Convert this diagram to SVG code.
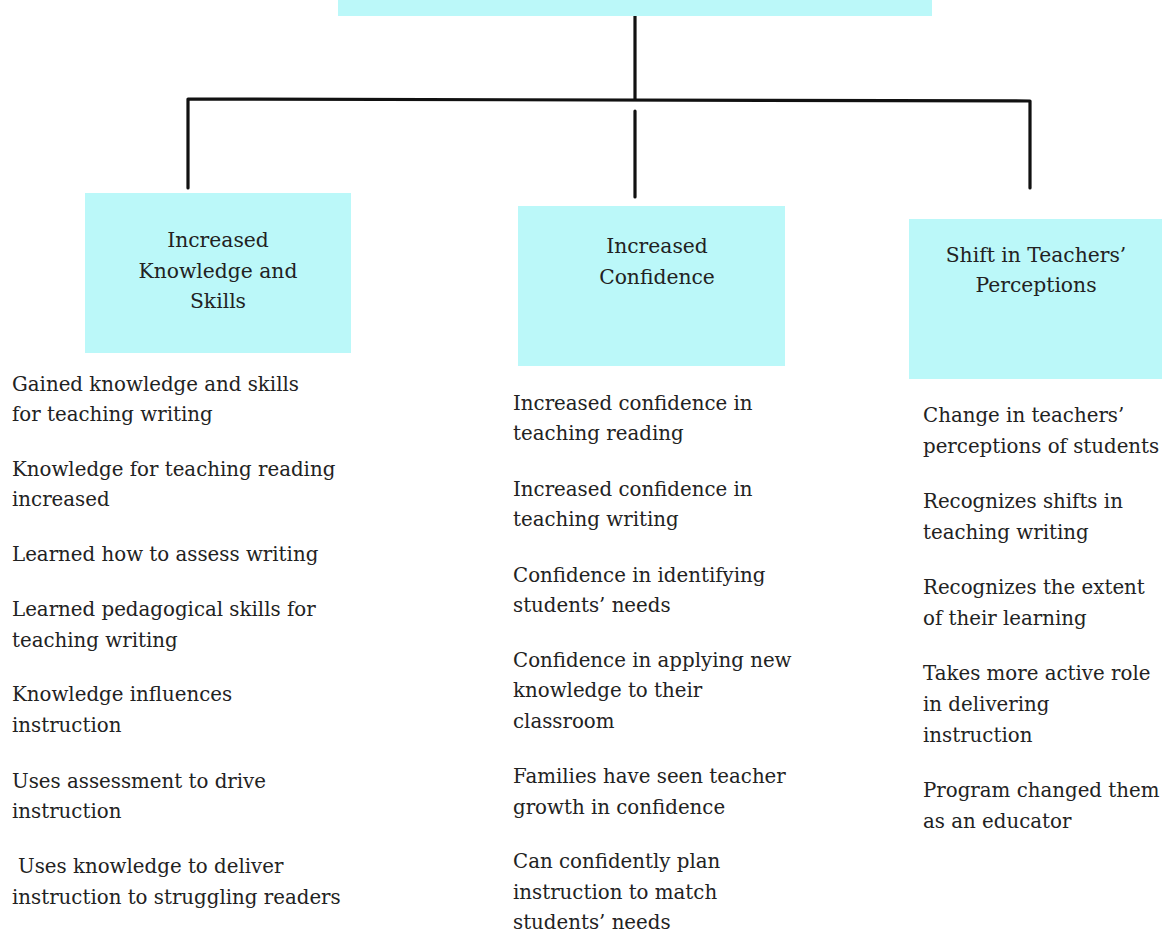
<svg xmlns="http://www.w3.org/2000/svg" width="1162" height="932" viewBox="0 0 1162 932">
<style>
.box{fill:#bbf8f9}
.t{font-family:"DejaVu Serif","Liberation Serif",serif;font-size:19.8px;fill:#222}
.h{text-anchor:middle;font-size:20.3px}
.ln{stroke:#111;stroke-width:3.2;fill:none;stroke-linecap:round;stroke-linejoin:round}
</style>
<rect width="1162" height="932" fill="#fff"/>
<g id="connectors">
<path class="ln" d="M635,13 V99"/>
<path class="ln" d="M188,188 V99 L1030,101 V188"/>
<path class="ln" d="M635,111 V197"/>
</g>
<g id="root"><rect class="box" x="338" y="0" width="594" height="16"/></g>
<g id="n1">
<rect class="box" x="85" y="193" width="266" height="160"/>
<text class="t h" x="218" y="247">Increased</text>
<text class="t h" x="218" y="278">Knowledge and</text>
<text class="t h" x="218" y="308">Skills</text>
</g>
<g id="n2">
<rect class="box" x="518" y="206" width="267" height="160"/>
<text class="t h" x="657" y="253">Increased</text>
<text class="t h" x="657" y="284">Confidence</text>
</g>
<g id="n3">
<rect class="box" x="909" y="219" width="253" height="160"/>
<text class="t h" x="1036" y="262">Shift in Teachers’</text>
<text class="t h" x="1036" y="292">Perceptions</text>
</g>
<g id="list1" class="t">
<text x="12" y="391">Gained knowledge and skills</text>
<text x="12" y="421">for teaching writing</text>
<text x="12" y="476">Knowledge for teaching reading</text>
<text x="12" y="506">increased</text>
<text x="12" y="561">Learned how to assess writing</text>
<text x="12" y="616">Learned pedagogical skills for</text>
<text x="12" y="647">teaching writing</text>
<text x="12" y="701">Knowledge influences</text>
<text x="12" y="732">instruction</text>
<text x="12" y="788">Uses assessment to drive</text>
<text x="12" y="818">instruction</text>
<text x="18" y="873">Uses knowledge to deliver</text>
<text x="12" y="904">instruction to struggling readers</text>
</g>
<g id="list2" class="t">
<text x="513" y="410">Increased confidence in</text>
<text x="513" y="440">teaching reading</text>
<text x="513" y="496">Increased confidence in</text>
<text x="513" y="526">teaching writing</text>
<text x="513" y="582">Confidence in identifying</text>
<text x="513" y="612">students’ needs</text>
<text x="513" y="667">Confidence in applying new</text>
<text x="513" y="697">knowledge to their</text>
<text x="513" y="728">classroom</text>
<text x="513" y="783">Families have seen teacher</text>
<text x="513" y="814">growth in confidence</text>
<text x="513" y="868">Can confidently plan</text>
<text x="513" y="899">instruction to match</text>
<text x="513" y="929">students’ needs</text>
</g>
<g id="list3" class="t">
<text x="923" y="422">Change in teachers’</text>
<text x="923" y="453">perceptions of students</text>
<text x="923" y="508">Recognizes shifts in</text>
<text x="923" y="539">teaching writing</text>
<text x="923" y="594">Recognizes the extent</text>
<text x="923" y="625">of their learning</text>
<text x="923" y="680">Takes more active role</text>
<text x="923" y="711">in delivering</text>
<text x="923" y="742">instruction</text>
<text x="923" y="797">Program changed them</text>
<text x="923" y="828">as an educator</text>
</g>
</svg>
